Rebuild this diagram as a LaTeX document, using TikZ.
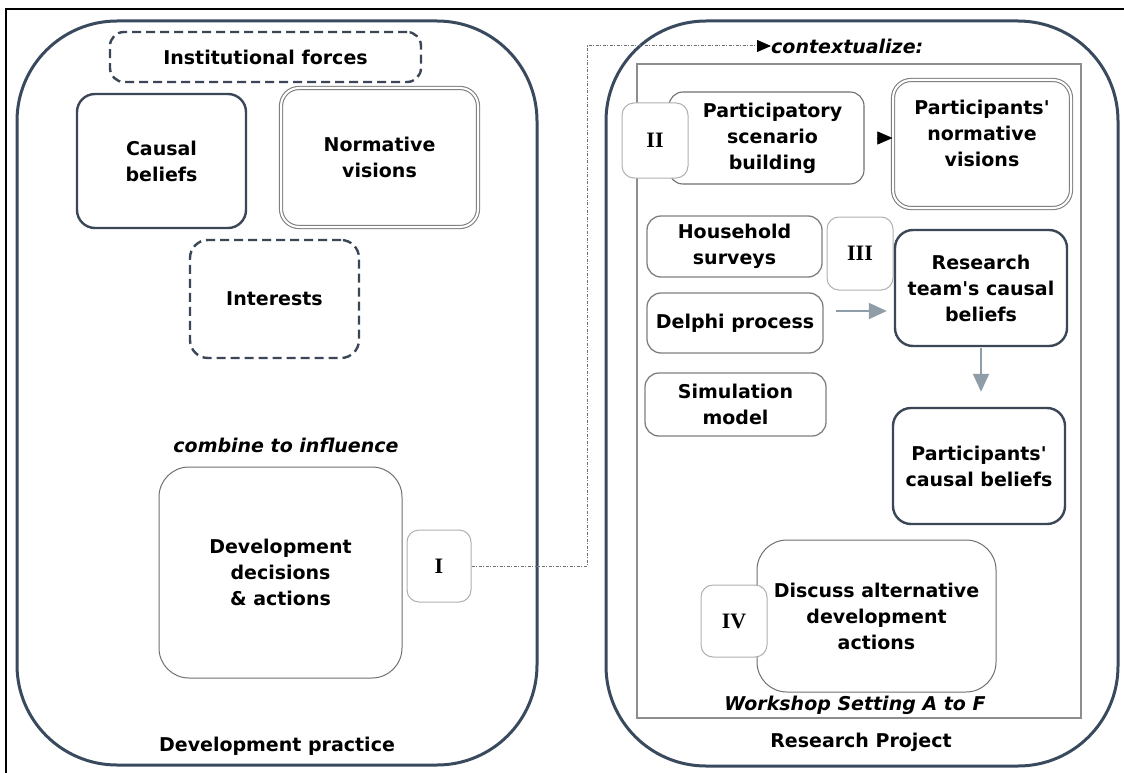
\documentclass[tikz,border=0pt]{standalone}
\usepackage{fontspec}
\setmainfont{DejaVu Sans}
\newfontfamily\numfont{Liberation Serif}
\usetikzlibrary{arrows.meta}
\definecolor{frame}{HTML}{3A4A5E}
\definecolor{boxdark}{HTML}{3B4757}
\definecolor{boxgray}{HTML}{808080}
\definecolor{boxlight}{HTML}{B0B0B0}
\definecolor{arrowgray}{HTML}{8E9DA7}
\definecolor{linkgray}{HTML}{707070}
% straight apostrophe, taken from the font's own glyph
\newcommand\apos{\XeTeXglyph\XeTeXglyphindex"quotesingle"\relax}

\begin{document}
\begin{tikzpicture}[x=1pt,y=-1pt,
  every node/.style={font=\fontsize{19}{26}\selectfont\bfseries, align=center, inner sep=0pt},
  sz/.style 2 args={minimum width=#1pt, minimum height=#2pt},
  bigbox/.style={draw=frame, line width=3pt, rounded corners=100pt},
  innerframe/.style={draw=boxgray!90, line width=1.5pt},
  darkbox/.style={draw=boxdark, line width=2.4pt, rounded corners=18pt, fill=white},
  dashbox/.style={darkbox, dash pattern=on 9pt off 5pt},
  dblbox/.style={draw=boxgray, line width=1.1pt, double=white, double distance=2pt, rounded corners=18pt, fill=white},
  thinbox/.style={draw=boxgray, line width=1.3pt, rounded corners=14pt, fill=white},
  softbox/.style={draw=linkgray, line width=1pt, rounded corners=30pt, fill=white},
  numbox/.style={draw=boxlight, line width=1pt, rounded corners=12pt, fill=white,
    font=\fontsize{22}{22}\selectfont\numfont\bfseries},
  ital/.style={font=\fontsize{19}{24}\selectfont\bfseries\itshape},
  link/.style={draw=linkgray, line width=1pt, dash pattern=on 3pt off 1.5pt on 1pt off 1.5pt,
    -{Triangle[length=14pt,width=12pt,color=black]}},
  blackarrow/.style={-{Triangle[length=15pt,width=13pt,color=black]}},
  grayarrow/.style={draw=arrowgray, line width=2pt, -{Triangle[length=18pt,width=16pt]}},
]
\useasboundingbox (0,0) rectangle (1124,773);
\fill[white] (0,0) rectangle (1124,773);

% page frame (top and left edges)
\draw[black, line width=2pt] (5,9) -- (1124,9);
\draw[black, line width=2pt] (6,9) -- (6,773);

% ---------------- Development practice ----------------
\node[bigbox, sz={520}{744}] (practice) at (277,393) {};
\node (practicelbl) at (277,746) {Development practice};

\node[dashbox, sz={311}{50}, rounded corners=14pt] (inst) at (265.5,57) {Institutional forces};
\node[darkbox, sz={169}{134}] (causal) at (161.5,161) {Causal\\beliefs};
\node[dblbox, sz={197}{139}] (norm) at (379.5,157.5) {Normative\\visions};
\node[dashbox, sz={169}{118}] (interests) at (274.5,299) {Interests};

\node[ital] (combine) at (286,445) {combine to influence};
\node[softbox, sz={243}{211}] (decide) at (280.5,572.5) {Development\\decisions\\\& actions};
\node[numbox, sz={64}{72}] (one) at (439,566) {I};

% ---------------- Research Project ----------------
\node[bigbox, sz={512}{745}] (project) at (862,393.5) {};
\node[innerframe, sz={444}{654}] (workshop) at (859,391) {};
\node (projectlbl) at (861,742) {Research Project};
\node[ital] (workshoplbl) at (855,705) {Workshop Setting A to F};

\node[ital, anchor=west] (ctx) at (771,46) {contextualize:};

\node[thinbox, sz={195}{92}, draw=linkgray, line width=1.1pt] (scen) at (766.5,138) {\hspace*{12pt}Participatory\\\hspace*{12pt}scenario\\\hspace*{12pt}building};
\node[numbox, sz={66}{75}] (two) at (655,140.5) {II};
\node[dblbox, sz={178}{128}] (pnorm) at (982,144) {};
\node (pnormlbl) at (982,133) {Participants\apos\\normative\\visions};

\node[thinbox, sz={175}{61}] (house) at (734.5,246.5) {Household\\surveys};
\node[numbox, sz={66}{73}] (three) at (860,253.5) {III};
\node[darkbox, sz={172}{116}] (team) at (981,288) {Research\\team\apos s causal\\beliefs};
\node[thinbox, sz={176}{60}] (delphi) at (735,323) {Delphi process};
\node[thinbox, sz={181}{63}] (sim) at (735.5,404.5) {Simulation\\model};
\node[darkbox, sz={172}{116}] (pcausal) at (979,466) {Participants\apos\\causal beliefs};

\node[softbox, sz={239}{152}] (discuss) at (876.5,616) {Discuss alternative\\development\\actions};
\node[numbox, sz={66}{72}] (four) at (734,621) {IV};

% ---------------- connectors ----------------
\coordinate (turn) at (587,46);
\draw[link] (one.east) -| (turn) -- (ctx.west);
\draw[blackarrow, shorten <=12pt] (scen.east) -- (scen.east -| pnorm.west);
\draw[grayarrow, shorten <=12pt, shorten >=7pt] ([yshift=12pt]delphi.east) -- ([yshift=12pt]delphi.east -| team.west);
\draw[grayarrow, shorten <=1pt, shorten >=15pt] (team.south) -- (pcausal.north -| team.south);
\end{tikzpicture}
\end{document}
